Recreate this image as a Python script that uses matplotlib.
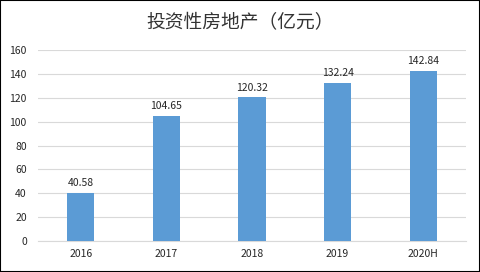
import matplotlib
matplotlib.use('Agg')
import matplotlib.pyplot as plt
from matplotlib.patches import Rectangle

plt.rcParams['font.family'] = ['Noto Sans CJK SC', 'DejaVu Sans']

# data
years = ['2016', '2017', '2018', '2019', '2020H']
values = [40.58, 104.65, 120.32, 132.24, 142.84]
labels = ['40.58', '104.65', '120.32', '132.24', '142.84']
yticks = [0, 20, 40, 60, 80, 100, 120, 140, 160]
title = '投资性房地产（亿元）'

fig = plt.figure(figsize=(4.8, 2.72), dpi=100)
ax = fig.add_axes([0.079, 0.114, 0.892, 0.702])

x = range(len(years))
ax.bar(x, values, width=0.32, color='#5B9BD5', zorder=3)
for xi, v, lab in zip(x, values, labels):
    ax.text(xi, v + 4, lab, ha='center', va='bottom', fontsize=7.5, color='#262626')

ax.set_xlim(-0.5, len(years) - 0.5)
ax.set_ylim(0, 160)
ax.set_yticks(yticks)
ax.set_xticks(list(x))
ax.set_xticklabels(years)
ax.tick_params(axis='both', length=0, labelsize=7.5, colors='#262626')
ax.tick_params(axis='y', pad=8)
ax.tick_params(axis='x', pad=6)
ax.grid(axis='y', color='#D9D9D9', linewidth=0.8, zorder=0)
for s in ['top', 'right', 'left']:
    ax.spines[s].set_visible(False)
ax.spines['bottom'].set_color('#D9D9D9')

fig.text(0.5, 0.915, title, ha='center', va='center', fontsize=13.5, color='#333333')

# outer border
fig.patches.append(Rectangle((0, 0), 1, 1, transform=fig.transFigure, fill=False,
                             edgecolor='black', linewidth=1.5))

fig.savefig('out.png', dpi=100)
